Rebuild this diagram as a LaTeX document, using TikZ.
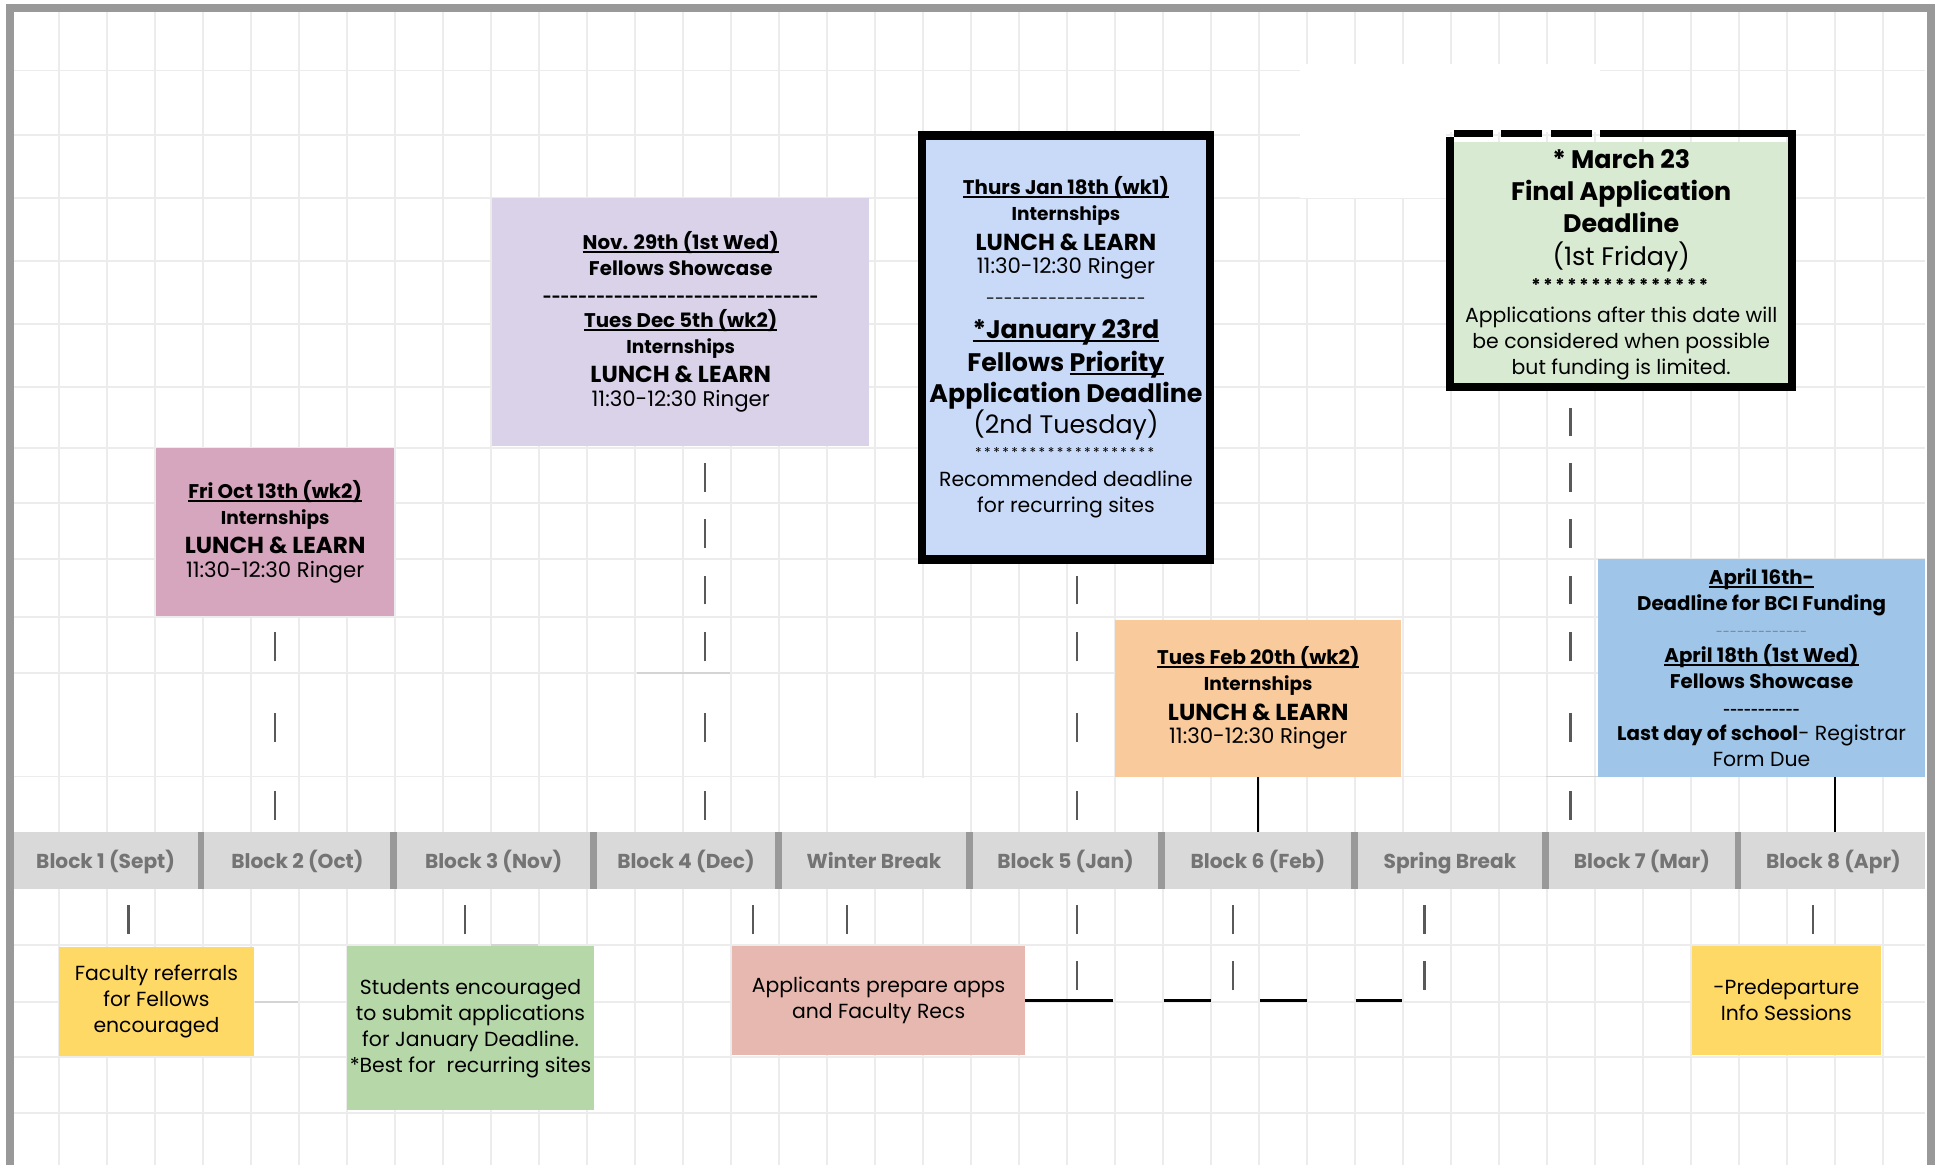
\documentclass[tikz,border=0pt]{standalone}
\usepackage{fontspec}
\setmainfont{Poppins}[Ligatures=TeXOff]
\usetikzlibrary{calc}
\definecolor{gridc}{HTML}{ECECEC}
\definecolor{gridd}{HTML}{D4D4D4}
\definecolor{framec}{HTML}{999999}
\definecolor{barc}{HTML}{D9D9D9}
\definecolor{bartext}{HTML}{747474}
\definecolor{pinkc}{HTML}{D5A6BD}
\definecolor{lavc}{HTML}{D9D2E9}
\definecolor{bluec}{HTML}{C9DAF8}
\definecolor{greenl}{HTML}{D9EAD3}
\definecolor{orangec}{HTML}{F9CB9C}
\definecolor{lbluec}{HTML}{9FC5E8}
\definecolor{yellowc}{HTML}{FFD966}
\definecolor{greenm}{HTML}{B6D7A8}
\definecolor{salmonc}{HTML}{E6B8AF}
\definecolor{dashc}{HTML}{595959}
\newcommand\setfs[2]{\fontsize{#1}{#2}\selectfont}
\newcommand\myul[1]{\leavevmode\setbox0\hbox{#1}\rlap{\rule[-3pt]{\wd0}{1.7pt}}\box0}
\newcommand\repchar[3]{\foreach \n in {1,...,#1}{#2\kern#3}}
\newcommand\hb{\setfs{16}{21}\bfseries}
\newcommand\hi{\setfs{15}{21}\bfseries}
\newcommand\hl{\setfs{18.7}{21}\bfseries}
\newcommand\hr{\setfs{17.2}{21}}
\newcommand\hbig{\setfs{20.5}{25}\bfseries}
\newcommand\hbigr{\setfs{20.5}{25}}
\tikzset{
  box/.style={inner sep=0pt, align=center, text=black, anchor=center, font=\setfs{16.5}{21}},
  blk/.style={inner sep=0pt, text=bartext, font=\setfs{16.3}{18}\bfseries, anchor=center, text height=12pt, text depth=4pt},
  updash/.style={dashc, line width=1.8pt, dash pattern=on 23pt off 40pt on 23pt off 42pt on 24pt off 22pt on 23pt off 23pt on 23pt off 22pt on 23pt off 22pt on 23pt off 100pt, dash phase=423pt},
  downdash/.style={dashc, line width=1.8pt, dash pattern=on 23pt off 22pt on 23pt off 100pt, dash phase=155pt},
  hdash/.style={black, line width=2.2pt, dash pattern=on 71pt off 41pt on 38pt off 40pt on 38pt off 39pt on 38pt off 20pt},
  solidc/.style={black, line width=1.8pt},
  gridl/.style={gridc, line width=1.4pt},
}
\begin{document}
\begin{tikzpicture}[x=1pt,y=-1pt]
\useasboundingbox (0,0) rectangle (1568,942);
\fill[white] (0,0) rectangle (1568,942);
% grid
\foreach \k in {0,...,38} {\draw[gridl] ({48+38.8*\k},10) -- ({48+38.8*\k},942);}
\foreach \yy in {57,109,160,211,262,313,362,407,452,499,544,628,764,810,855,900} {\draw[gridl] (11,\yy) -- (1557,\yy);}
% white patches and darker grid pieces
\fill[white] (1051,52) rectangle (1294,107);
\fill[white] (1051,107) rectangle (1169,160);
\fill[white] (703,629) rectangle (747,673);
\draw[gridd, line width=1.4pt] (515,544) -- (590,544);
\draw[gridd, line width=1.4pt] (206,810) -- (241,810);
\draw[gridd, line width=1.4pt] (397,764) -- (435,764);
\draw[gridd, line width=1.4pt] (1250,628) -- (1557,628);
% frame
\draw[framec, line width=6.5pt] (8,942) -- (8,6.5) -- (1561.5,6.5) -- (1561.5,942);
% bar
\node[fill=barc, inner sep=0pt, minimum width=1546pt, minimum height=46pt] (bar) at (784,696) {};
\foreach \sx in {162.5,318.5,480,629.5,784,939.5,1095,1250,1405.5} {\draw[framec, line width=5.5pt] (\sx,673) -- (\sx,719);}
\node[blk] (b1) at (85.4,698.5) {Block 1 (Sept)};
\node[blk] (b2) at (240.5,698.5) {Block 2 (Oct)};
\node[blk] (b3) at (399.2,698.5) {Block 3 (Nov)};
\node[blk] (b4) at (554.7,698.5) {Block 4 (Dec)};
\node[blk] (b5) at (706.7,698.5) {Winter Break};
\node[blk] (b6) at (861.7,698.5) {Block 5 (Jan)};
\node[blk] (b7) at (1017.2,698.5) {Block 6 (Feb)};
\node[blk] (b8) at (1172.5,698.5) {Spring Break};
\node[blk] (b9) at (1327.7,698.5) {Block 7 (Mar)};
\node[blk] (b10) at (1482.6,698.5) {Block 8 (Apr)};

% upper boxes
\node[box, fill=pinkc, minimum width=193pt, minimum height=136pt] (oct) at (222.5,430) {%
{\hb\myul{Fri Oct 13th (wk2)}}\\
{\hi Internships}\\[3pt]
{\hl LUNCH \& LEARN}\\[-2pt]
{\hr 11:30-12:30 Ringer}};

\node[box, fill=lavc, minimum width=305pt, minimum height=200pt] (lav) at (550.5,260.5) {%
{\hb\myul{Nov. 29th (1st Wed)}}\\
{\hb Fellows Showcase}\\[1pt]
{\setfs{12.4}{21}\bfseries -------------------------------}\\[-1pt]
{\hb\myul{Tues Dec 5th (wk2)}}\\
{\hi Internships}\\[2.5pt]
{\hl LUNCH \& LEARN}\\[-1.5pt]
{\hr 11:30-12:30 Ringer}};

\node[box, fill=bluec, draw=black, line width=7pt, minimum width=233pt, minimum height=343pt] (jan) at (862,281) {%
{\hb\myul{Thurs Jan 18th (wk1)}}\\
{\hi Internships}\\[3.5pt]
{\hl LUNCH \& LEARN}\\[-3pt]
{\hr 11:30-12:30 Ringer}\\[4pt]
{\setfs{13}{21}------------------}\\[6.5pt]
{\hbig\myul{*January 23rd}}\\[4pt]
{\hbig Fellows \myul{Priority}}\\[2pt]
{\hbig Application Deadline}\\[0pt]
{\hbigr (2nd Tuesday)}\\[-2pt]
{\setfs{11}{14}\repchar{20}{*}{2pt}}\\[3pt]
Recommended deadline\\
for recurring sites};

\node[box, fill=greenl, minimum width=270pt, minimum height=199pt] (mar) at (1311,214) {%
{\hbig * March 23}\\[5pt]
{\hbig Final Application}\\[3pt]
{\hbig Deadline}\\[6pt]
{\hbigr (1st Friday)}\\[0pt]
{\setfs{14}{21}\bfseries\repchar{15}{*}{2.2pt}}\\[4pt]
Applications after this date will\\
be considered when possible\\
but funding is limited.};
\fill[black] (1169.5,111) rectangle (1176,316);
\fill[black] (1446,105) rectangle (1452.5,316);
\fill[black] (1169.5,310) rectangle (1452.5,316);
\fill[black] (1176,105) rectangle (1207,111);
\fill[black] (1214,105) rectangle (1247,111);
\fill[black] (1254,105) rectangle (1287,111);
\fill[black] (1294,105) rectangle (1452.5,111);

\node[box, fill=orangec, minimum width=231pt, minimum height=127pt] (feb) at (1017.5,564.5) {%
{\hb\myul{Tues Feb 20th (wk2)}}\\
{\hi Internships}\\[3pt]
{\hl LUNCH \& LEARN}\\[-2pt]
{\hr 11:30-12:30 Ringer}};

\node[box, fill=lbluec, minimum width=265pt, minimum height=176pt] (apr) at (1424.5,540) {%
{\hb\myul{April 16th-}}\\
{\hb Deadline for BCI Funding}\\
{\setfs{10.3}{12}\color{gray}-------------}\\
{\hb\myul{April 18th (1st Wed)}}\\
{\hb Fellows Showcase}\\
{\setfs{9.7}{21}\bfseries -----------}\\
{\hb Last day of school}- Registrar\\
Form Due};

% lower boxes
\node[box, fill=yellowc, minimum width=157pt, minimum height=88pt] (fac) at (126.5,810) {Faculty referrals\\for Fellows\\encouraged};
\node[box, fill=greenm, minimum width=199pt, minimum height=133pt] (stu) at (380.5,831.5) {Students encouraged\\to submit applications\\for January Deadline.\\*Best for\ \ recurring sites};
\node[box, fill=salmonc, minimum width=237pt, minimum height=88pt] (apps) at (710.5,809) {Applicants prepare apps\\and Faculty Recs};
\node[box, fill=yellowc, minimum width=153pt, minimum height=88pt] (pre) at (1444.5,809) {-Predeparture\\Info Sessions};

% connectors above the bar
\draw[updash] (oct.south |- bar.north) -- (oct.south);
\draw[updash] (570,0 |- bar.north) -- (570,0 |- lav.south);
\draw[updash] (871,0 |- bar.north) -- (871,0 |- jan.south);
\draw[updash] (1270,0 |- bar.north) -- (1270,0 |- mar.south);
\draw[solidc] (feb.south) -- (feb.south |- bar.north);
\draw[solidc] (1484,0 |- apr.south) -- (1484,0 |- bar.north);

% connectors below the bar
\coordinate (hlend) at (1134,809);
\draw[hdash] (apps.east) -- (hlend);
\draw[downdash] (104,0 |- bar.south) -- (104,0 |- fac.north);
\draw[downdash] (376,0 |- bar.south) -- (376,0 |- stu.north);
\draw[downdash] (609,0 |- bar.south) -- (609,0 |- apps.north);
\draw[downdash] (685,0 |- bar.south) -- (685,0 |- apps.north);
\draw[downdash] (871,0 |- bar.south) -- (871,0 |- hlend);
\draw[downdash] (997,0 |- bar.south) -- (997,0 |- hlend);
\draw[downdash] (1152,0 |- bar.south) -- (1152,0 |- hlend);
\draw[downdash] (1466,0 |- bar.south) -- (1466,0 |- pre.north);
\end{tikzpicture}
\end{document}
